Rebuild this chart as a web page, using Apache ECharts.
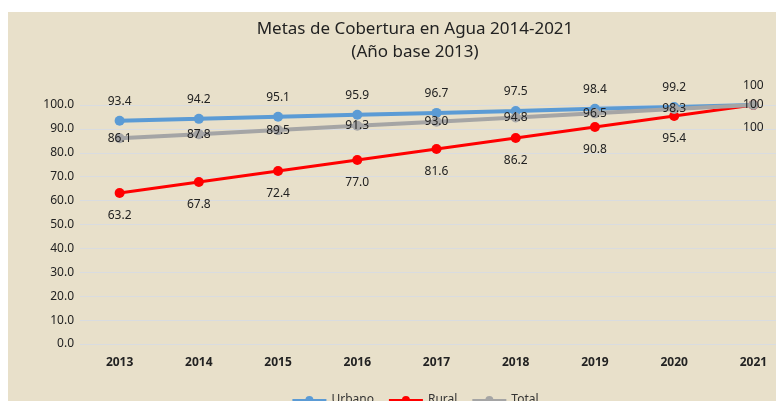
<!DOCTYPE html>
<html>
<head>
<meta charset="utf-8">
<script src="https://cdn.jsdelivr.net/npm/echarts@6/dist/echarts.min.js"></script>
<style>
  html, body { margin: 0; padding: 0; background: #fff; width: 776px; height: 401px; overflow: hidden; }
  #chart { position: absolute; left: 8px; top: 12px; width: 814px; height: 389px; }
</style>
</head>
<body>
<div id="chart"></div>
<script>
const years = ['2013', '2014', '2015', '2016', '2017', '2018', '2019', '2020', '2021']
const urbano = [93.4, 94.2, 95.1, 95.9, 96.7, 97.5, 98.4, 99.2, 100]
const rural = [63.2, 67.8, 72.4, 77.0, 81.6, 86.2, 90.8, 95.4, 100]
const total = [86.1, 87.8, 89.5, 91.3, 93.0, 94.8, 96.5, 98.3, 100]

const labelColor = '#222'
const fontFam = '"Noto Sans", sans-serif'

// last point shows "100", others with one decimal
const fmt = (p) => (p.dataIndex === years.length - 1 ? '100' : p.value.toFixed(1))

const chart = echarts.init(document.getElementById('chart'))
chart.setOption({
  backgroundColor: '#E8E0CA',
  animation: false,
  title: {
    text: 'Metas de Cobertura en Agua 2014-2021\n(Año base 2013)',
    left: 'center',
    top: 1,
    textStyle: {
      fontFamily: fontFam,
      fontWeight: 'normal',
      fontSize: 17,
      lineHeight: 23,
      color: '#222',
    },
  },
  legend: {
    bottom: -10,
    left: 'center',
    itemWidth: 34,
    itemHeight: 10,
    itemGap: 14,
    textStyle: { fontFamily: fontFam, fontSize: 12, color: '#333' },
    data: ['Urbano', 'Rural', 'Total'],
  },
  grid: {
    left: 72,
    right: 29,
    top: 93,
    bottom: 57,
    outerBoundsMode: 'none',
  },
  xAxis: {
    type: 'category',
    data: years,
    axisLine: { show: false },
    axisTick: { show: false },
    axisLabel: {
      color: labelColor,
      fontFamily: fontFam,
      fontWeight: 'bold',
      fontSize: 12,
      margin: 13,
    },
  },
  yAxis: {
    type: 'value',
    min: 0,
    max: 100,
    interval: 10,
    axisLine: { show: false },
    axisTick: { show: false },
    axisLabel: {
      color: labelColor,
      fontFamily: fontFam,
      fontSize: 12,
      margin: 6,
      formatter: (v) => v.toFixed(1),
    },
    splitLine: { lineStyle: { color: '#D9DCE0', width: 1 } },
  },
  series: [
    {
      name: 'Urbano',
      type: 'line',
      data: urbano,
      symbol: 'circle',
      symbolSize: 10,
      lineStyle: { width: 4, color: '#5B9BD5' },
      itemStyle: { color: '#5B9BD5' },
      label: {
        show: true,
        position: 'top',
        distance: 8,
        formatter: fmt,
        color: labelColor,
        fontFamily: fontFam,
        fontSize: 12,
      },
      z: 2,
    },
    {
      name: 'Rural',
      type: 'line',
      data: rural,
      symbol: 'circle',
      symbolSize: 10,
      lineStyle: { width: 3, color: '#FF0000' },
      itemStyle: { color: '#FF0000' },
      label: {
        show: true,
        position: 'bottom',
        distance: 12,
        formatter: fmt,
        color: labelColor,
        fontFamily: fontFam,
        fontSize: 12,
      },
      z: 3,
    },
    {
      name: 'Total',
      type: 'line',
      data: total,
      symbol: 'circle',
      symbolSize: 10,
      lineStyle: { width: 4, color: '#A5A5A5' },
      itemStyle: { color: '#A5A5A5' },
      label: {
        show: true,
        position: 'inside',
        formatter: fmt,
        color: labelColor,
        fontFamily: fontFam,
        fontSize: 12,
      },
      z: 4,
    },
  ],
})
window.addEventListener('resize', () => {
  chart.resize()
})
</script>
</body>
</html>
